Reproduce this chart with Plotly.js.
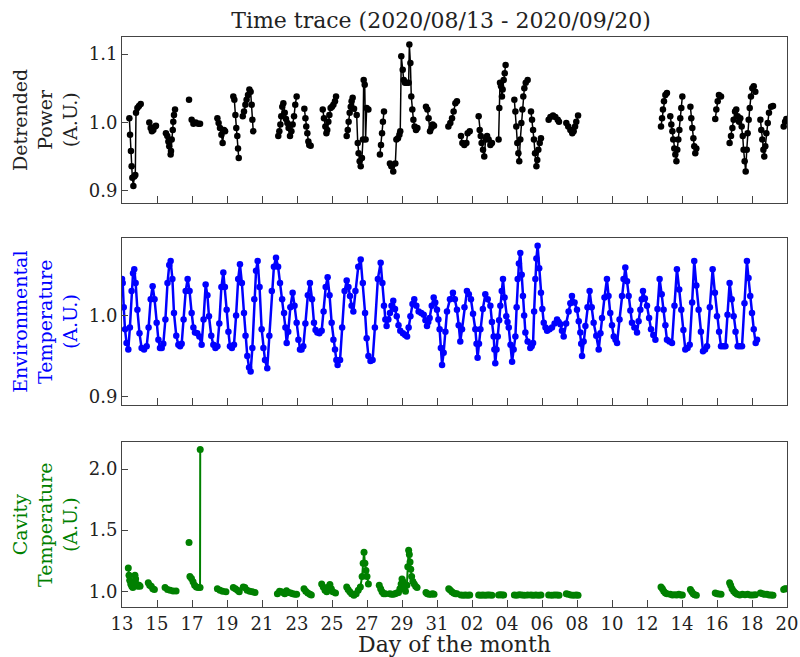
<!DOCTYPE html>
<html><head><meta charset="utf-8">
<script src="https://cdn.plot.ly/plotly-3.0.1.min.js"></script>
<style>html,body{margin:0;padding:0;background:#fff}#chart{width:800px;height:657px}</style>
</head><body><div id="chart"></div>
<script>
// x = days since 2020-08-13 00:00
const tickDays = [0,2,4,6,8,10,12,14,16,18,20,22,24,26,28,30,32,34,36,38];
const tickLabels = ['13','15','17','19','21','23','25','27','29','31','02','04','06','08','10','12','14','16','18','20'];

// Detrended power (null = gap in the record)
const powerDay = [
0.42,0.46,0.51,0.55,0.59,0.65,0.70,0.76,0.80,0.88,0.97,1.07,null,
1.56,1.64,1.71,1.79,1.89,1.94,null,
2.51,2.59,2.65,2.70,2.78,2.80,2.84,2.90,2.93,2.97,3.03,null,
3.83,null,
3.98,4.08,4.21,4.36,4.46,null,
5.45,5.52,5.60,5.68,5.75,5.83,5.89,null,
6.36,6.42,6.48,6.53,6.59,6.63,6.67,null,
6.90,6.97,7.05,7.12,7.20,7.28,7.35,7.41,7.45,7.50,null,
8.93,8.99,9.05,9.10,9.16,9.22,9.30,9.37,9.45,9.52,9.60,9.68,9.75,9.83,9.90,9.98,null,
10.42,10.48,10.53,10.59,10.65,10.70,10.78,null,
11.47,11.54,11.62,11.68,11.73,11.79,11.85,11.92,12.00,12.08,12.17,12.23,null,
12.84,12.90,12.95,13.01,13.07,13.12,13.18,13.26,13.41,13.47,13.52,13.58,13.64,13.71,13.77,13.81,13.87,13.92,13.98,14.08,null,
14.74,14.80,14.86,14.91,14.97,null,
15.31,15.39,15.50,15.62,15.68,15.77,15.85,15.90,15.96,16.04,16.10,16.17,16.27,16.38,16.42,16.48,16.53,16.59,16.65,16.72,16.80,16.88,null,
17.37,17.45,17.52,17.60,17.68,17.75,17.83,null,
18.65,18.76,18.86,18.95,19.05,19.14,null,
19.37,19.45,19.56,19.68,19.75,19.87,null,
20.38,20.44,20.50,20.55,20.63,20.70,20.78,20.86,20.95,21.05,21.14,null,
21.52,21.56,21.60,21.66,21.71,21.75,21.81,21.87,21.92,null,
22.42,22.48,22.53,22.59,22.65,22.70,22.76,22.82,22.88,22.93,22.99,23.07,23.18,null,
23.37,23.43,23.49,23.54,23.60,23.68,23.73,23.79,23.87,23.94,null,
24.38,24.48,24.63,24.76,24.90,24.97,null,
25.39,25.50,25.62,25.73,25.81,25.89,25.96,26.06,null,
30.80,30.86,30.91,30.97,31.05,31.14,null,
31.33,31.39,31.45,31.50,31.56,31.62,31.68,31.73,31.79,31.85,31.90,31.96,32.02,null,
32.48,32.53,32.59,32.65,32.70,32.76,32.82,null,
33.90,33.96,34.04,34.11,34.23,null,
34.72,34.80,34.88,34.95,35.03,35.10,35.18,35.26,35.33,35.41,35.47,35.52,35.58,35.64,35.70,35.75,35.81,35.87,35.94,36.02,36.10,36.19,null,
36.48,36.53,36.59,36.65,36.70,36.76,36.82,36.90,36.97,37.09,37.20,null,
37.81,37.89,37.96];
const powerVal = [
1.006,0.982,0.958,0.936,0.919,0.907,0.921,0.923,1.014,1.021,1.024,1.027,null,
1.000,0.992,0.987,0.989,0.994,0.995,null,
0.984,0.980,0.972,0.965,0.953,0.958,0.975,0.989,1.001,1.011,1.019,null,
1.033,null,
1.004,0.998,1.000,0.998,0.998,null,
1.006,0.999,0.992,0.982,0.970,0.989,0.987,null,
1.038,1.033,1.011,0.992,0.980,0.962,0.948,null,
1.009,1.016,1.026,1.033,1.040,1.048,1.045,1.026,1.004,0.987,null,
0.980,0.987,0.997,1.009,1.023,1.028,1.014,1.005,0.999,0.992,0.980,0.987,0.997,1.009,1.026,1.038,null,
1.020,1.006,0.994,0.984,0.972,0.967,0.966,null,
1.019,1.006,0.994,0.984,0.989,1.001,1.011,1.021,1.023,1.026,1.031,1.038,null,
0.980,0.989,1.001,1.014,1.023,1.031,1.036,1.020,1.011,0.970,0.955,0.943,0.936,0.948,0.975,1.062,1.055,0.975,1.021,1.019,null,
0.953,0.967,0.984,1.001,1.016,null,
0.940,0.936,0.928,0.940,0.975,0.977,0.982,0.987,1.097,1.077,1.062,1.058,1.058,1.058,1.114,1.087,1.038,1.019,1.004,0.994,0.989,0.992,null,
1.023,1.019,1.006,0.987,0.992,0.997,0.995,null,
0.994,0.999,1.006,1.016,1.028,1.031,null,
0.980,0.970,0.967,0.970,0.984,0.987,null,
1.009,0.989,0.980,0.970,0.960,0.950,0.975,0.980,0.975,0.967,0.970,null,
0.975,1.021,1.058,1.053,1.038,1.048,1.062,1.072,1.084,null,
1.033,1.016,0.994,0.970,0.955,0.943,0.975,0.999,1.019,1.038,1.050,1.058,1.062,null,
1.016,1.004,0.989,0.975,0.955,0.936,0.945,0.960,0.970,0.977,null,
1.004,1.008,1.010,1.008,1.004,1.001,null,
0.999,0.994,0.989,0.984,0.987,0.994,1.001,1.010,null,
0.994,1.006,1.019,1.031,1.040,1.043,null,
1.009,0.997,0.987,0.975,0.962,0.953,0.943,0.960,0.975,0.989,1.006,1.021,1.038,null,
1.023,1.006,0.992,0.977,0.965,0.955,0.962,null,
1.005,1.019,1.031,1.040,1.038,null,
0.970,0.980,0.992,1.004,1.016,1.019,1.009,1.001,1.006,0.994,0.980,0.960,0.943,0.928,0.960,0.984,1.004,1.021,1.038,1.050,1.053,1.045,null,
1.004,0.989,0.975,0.960,0.950,0.965,0.984,0.999,1.014,1.023,1.024,null,
0.994,1.001,1.005];

// Environmental temperature
const envDay = [
0.00,0.04,0.10,0.17,0.26,0.36,0.45,0.55,0.63,0.70,0.78,0.88,1.00,1.12,1.26,1.41,1.52,1.64,1.75,1.86,
1.98,2.08,2.17,2.27,2.36,2.48,2.60,2.70,2.78,2.88,2.97,3.10,3.22,3.32,3.41,3.52,3.64,3.75,3.86,3.98,
4.08,4.17,4.30,4.42,4.55,4.66,4.78,4.88,4.97,5.10,5.22,5.34,5.45,5.56,5.68,5.79,5.88,5.98,6.08,6.17,
6.28,6.40,6.52,6.64,6.74,6.85,6.97,7.06,7.16,7.26,7.35,7.45,7.56,7.66,7.75,7.86,7.98,8.08,8.17,8.30,
8.42,8.56,8.68,8.80,8.92,9.03,9.15,9.26,9.34,9.41,9.50,9.62,9.75,9.86,9.98,10.08,10.17,10.26,10.36,10.48,
10.62,10.74,10.86,10.97,11.06,11.16,11.28,11.41,11.52,11.64,11.75,11.86,11.98,12.08,12.17,12.25,12.32,12.46,12.58,12.72,
12.84,12.94,13.03,13.12,13.22,13.34,13.50,13.64,13.76,13.89,13.98,14.08,14.20,14.32,14.45,14.62,14.78,14.88,14.97,15.05,
15.12,15.22,15.31,15.40,15.50,15.60,15.70,15.80,15.90,16.05,16.18,16.29,16.38,16.48,16.60,16.70,16.82,16.95,17.10,17.24,
17.34,17.43,17.50,17.58,17.70,17.81,17.90,18.00,18.08,18.15,18.22,18.29,18.38,18.48,18.57,18.74,18.91,19.02,19.14,19.24,
19.33,19.43,19.57,19.71,19.82,19.94,20.06,20.19,20.26,20.32,20.40,20.48,20.62,20.76,20.90,21.05,21.14,21.24,21.28,21.33,
21.40,21.47,21.55,21.62,21.70,21.77,21.86,21.96,22.03,22.10,22.20,22.29,22.38,22.48,22.55,22.61,22.68,22.76,22.84,22.91,
22.98,23.05,23.18,23.33,23.41,23.49,23.55,23.62,23.68,23.75,23.84,23.94,24.02,24.10,24.20,24.29,24.43,24.57,24.72,24.86,
24.95,25.05,25.14,25.24,25.38,25.52,25.62,25.71,25.86,26.00,26.10,26.19,26.24,26.29,26.38,26.48,26.60,26.72,26.84,26.95,
27.10,27.24,27.34,27.43,27.57,27.71,27.80,27.90,28.00,28.10,28.20,28.29,28.43,28.57,28.66,28.76,28.86,28.95,29.05,29.14,
29.28,29.43,29.52,29.62,29.70,29.77,29.88,30.00,30.12,30.23,30.36,30.48,30.60,30.72,30.84,30.95,31.05,31.14,31.28,31.43,
31.57,31.71,31.84,31.96,32.08,32.19,32.32,32.44,32.58,32.70,32.82,32.95,33.08,33.20,33.32,33.43,33.59,33.75,33.88,34.00,
34.12,34.23,34.36,34.48,34.60,34.72,34.84,34.95,35.06,35.18,35.30,35.43,35.57,35.71,35.80,35.90,36.00,36.10,36.21,36.29];
const envVal = [
1.045,1.040,1.010,0.983,0.966,0.958,0.985,1.030,1.052,1.057,1.040,1.007,0.978,0.960,0.958,0.962,0.985,1.020,1.036,1.020,
0.991,0.970,0.960,0.960,0.965,0.995,1.040,1.062,1.067,1.045,1.003,0.975,0.964,0.962,0.965,0.995,1.030,1.045,1.030,1.003,
0.985,0.979,0.978,0.974,0.964,0.995,1.038,1.025,0.999,0.975,0.964,0.960,0.962,0.990,1.035,1.053,1.035,1.007,0.980,0.962,
0.960,0.964,1.000,1.045,1.063,1.040,1.003,0.975,0.950,0.936,0.931,0.960,1.020,1.055,1.067,1.035,0.983,0.960,0.945,0.935,
0.975,1.030,1.060,1.071,1.060,1.040,1.020,1.003,0.985,0.966,0.980,1.010,1.028,1.012,0.991,0.970,0.958,0.958,0.962,0.990,
1.025,1.040,1.020,0.991,0.982,0.979,0.978,0.981,1.005,1.035,1.047,1.025,0.991,0.970,0.958,0.945,0.939,0.945,0.985,1.030,
1.043,1.035,1.024,1.012,1.005,1.030,1.060,1.069,1.040,1.003,0.972,0.950,0.944,0.945,0.985,1.045,1.065,1.040,1.012,0.995,
0.987,0.995,1.003,1.012,1.018,1.008,0.999,0.988,0.981,0.978,0.976,0.974,0.985,0.999,1.014,1.020,1.012,1.005,1.003,1.001,
0.994,0.987,0.992,0.997,1.012,1.022,1.016,1.007,0.995,0.983,0.960,0.939,0.954,0.980,1.005,1.020,1.028,1.020,1.007,0.988,
0.968,0.983,1.010,1.030,1.026,1.020,1.002,0.983,0.965,0.948,0.965,0.983,1.008,1.026,1.020,1.012,0.992,0.974,0.958,0.941,
0.958,0.974,0.994,1.012,1.030,1.045,1.022,0.999,0.992,0.985,0.964,0.943,0.958,0.974,1.010,1.045,1.064,1.077,1.050,1.024,
1.000,0.979,0.968,0.960,0.962,0.966,1.005,1.045,1.070,1.086,1.058,1.028,1.008,0.991,0.985,0.981,0.983,0.985,0.990,0.995,
0.992,0.989,0.981,0.974,0.990,1.005,1.015,1.024,1.016,1.007,0.993,0.979,0.965,0.950,0.968,0.987,1.010,1.030,1.010,0.991,
0.975,0.958,0.978,0.997,1.022,1.045,1.024,1.003,0.988,0.974,0.970,0.966,0.995,1.024,1.045,1.059,1.042,1.024,1.006,0.991,
0.985,0.979,0.993,1.007,1.020,1.030,1.021,1.012,0.997,0.983,0.976,0.970,1.008,1.045,1.026,1.007,0.988,0.970,0.968,0.966,
1.012,1.057,1.032,1.007,0.982,0.958,0.960,0.964,1.016,1.067,1.037,1.007,0.980,0.956,0.958,0.962,1.010,1.057,1.028,0.999,
0.980,0.962,0.962,0.962,1.001,1.040,1.020,0.999,0.980,0.962,0.962,0.962,1.015,1.067,1.046,1.024,1.003,0.983,0.966,0.970];

// Cavity temperature (same gaps as the power record)
const cavDay = [
0.36,0.40,0.44,0.50,0.56,0.62,0.68,0.74,0.78,0.82,0.90,0.98,1.03,null,
1.50,1.58,1.67,1.76,1.85,null,
2.46,2.60,2.75,2.92,3.09,null,
3.83,null,
3.88,3.97,4.06,4.15,4.25,4.35,4.46,4.47,null,
5.45,5.60,5.75,5.94,null,
6.36,6.48,6.60,6.70,null,
6.93,7.02,7.15,7.30,7.45,7.60,null,
8.88,9.00,9.10,9.20,9.30,9.40,9.52,9.64,9.76,9.88,9.98,null,
10.40,10.50,10.62,10.74,10.82,null,
11.41,11.50,11.60,11.70,11.80,11.88,11.96,12.05,12.20,null,
12.84,12.92,13.02,13.12,13.25,13.38,13.50,13.62,13.72,13.78,13.83,13.88,13.94,14.00,14.08,null,
14.70,14.78,14.86,14.95,15.05,null,
15.30,15.40,15.50,15.60,15.70,15.80,15.88,15.95,16.00,16.05,16.12,16.20,16.28,16.33,16.38,16.42,16.46,16.50,16.55,16.62,16.70,16.78,16.86,null,
17.37,17.45,17.55,17.65,17.75,17.83,null,
18.67,18.75,18.85,18.95,19.05,19.14,null,
19.37,19.50,19.62,19.75,19.87,null,
20.38,20.50,20.62,20.75,20.88,21.00,21.14,null,
21.52,21.62,21.72,21.81,null,
22.42,22.55,22.70,22.85,23.00,23.18,null,
23.37,23.50,23.65,23.80,23.94,null,
24.38,24.55,24.70,24.85,24.97,null,
25.39,25.50,25.65,25.80,25.95,26.06,null,
30.80,30.88,30.96,31.05,31.14,null,
31.33,31.45,31.58,31.70,31.82,31.92,32.02,null,
32.48,32.56,32.64,32.72,32.82,null,
33.90,34.00,34.10,34.23,null,
34.72,34.78,34.86,34.95,35.05,35.15,35.30,35.45,35.60,35.75,35.90,36.05,36.19,null,
36.48,36.60,36.72,36.85,36.98,37.10,37.20,null,
37.81,37.88,37.96];
const cavVal = [
1.19,1.13,1.09,1.06,1.04,1.03,1.06,1.13,1.10,1.06,1.04,1.05,1.04,null,
1.07,1.05,1.04,1.02,1.015,null,
1.03,1.015,1.008,1.003,1.003,null,
1.40,null,
1.12,1.105,1.077,1.05,1.035,1.03,1.03,2.16,null,
1.02,1.008,1.0,0.995,null,
1.03,1.02,1.008,0.995,null,
1.035,1.03,1.008,1.0,0.995,0.99,null,
0.98,1.0,0.995,0.99,0.98,1.005,0.99,0.985,0.98,0.975,0.975,null,
1.02,1.0,0.985,0.975,0.97,null,
1.06,1.035,1.008,0.995,1.035,1.055,1.02,0.995,0.985,null,
1.035,1.015,0.995,0.98,0.967,0.98,1.008,1.035,1.12,1.23,1.32,1.23,1.17,1.12,1.06,null,
1.05,1.02,0.995,0.98,0.98,null,
0.98,0.975,0.975,0.98,0.985,0.99,1.02,1.06,1.10,1.08,1.02,1.0,1.05,1.20,1.335,1.30,1.24,1.18,1.12,1.08,1.06,1.04,1.03,null,
0.99,0.98,0.975,0.975,0.98,0.975,null,
1.02,1.01,0.995,0.985,0.98,0.98,null,
0.97,0.968,0.97,0.968,0.97,null,
0.97,0.968,0.97,0.968,0.97,0.97,0.968,null,
0.97,0.972,0.97,0.97,null,
0.97,0.968,0.972,0.97,0.968,0.97,null,
0.97,0.968,0.97,0.968,0.97,null,
0.97,0.968,0.97,0.97,0.968,null,
0.98,0.975,0.97,0.968,0.97,0.968,null,
1.035,1.02,1.0,0.985,0.98,null,
0.975,0.97,0.972,0.97,0.975,0.97,0.97,null,
1.015,0.995,0.98,0.972,0.968,null,
0.985,0.98,0.978,0.975,null,
1.07,1.05,1.02,1.0,0.985,0.975,0.97,0.975,0.972,0.975,0.97,0.97,0.972,null,
0.985,0.98,0.975,0.975,0.97,0.97,0.968,null,
1.015,1.02,1.02];

const FONT = 'DejaVu Serif';
const AX = '#444';

function trace(x, y, color, xa, ya, msize, lw) {
  return {x: x, y: y, type: 'scatter', mode: 'lines+markers', xaxis: xa, yaxis: ya,
    connectgaps: false, line: {color: color, width: lw},
    marker: {color: color, size: msize}, hoverinfo: 'x+y'};
}

const data = [
  trace(powerDay, powerVal, '#000000', 'x', 'y', 6.5, 1.5),
  trace(envDay, envVal, '#0000ff', 'x2', 'y2', 6.5, 2.5),
  trace(cavDay, cavVal, '#008000', 'x3', 'y3', 7, 2)
];

function xax(anchor, labels) {
  return {anchor: anchor, range: [0, 38], tickvals: tickDays, ticktext: tickLabels,
    ticks: 'inside', ticklen: 7, tickcolor: AX, tickwidth: 1,
    showticklabels: labels, showline: true, linecolor: AX, linewidth: 1, mirror: true,
    showgrid: false, zeroline: false, tickfont: {family: FONT, size: 18, color: '#222'}};
}
function yax(anchor, domain, range, vals, title, color) {
  return {anchor: anchor, domain: domain, range: range, tickvals: vals, tickformat: '.1f',
    ticks: 'inside', ticklen: 6, tickcolor: AX, showline: true, linecolor: AX, linewidth: 1, mirror: true,
    showgrid: false, zeroline: false, tickfont: {family: FONT, size: 18, color: '#222'},
    title: {text: title, font: {family: FONT, size: 19, color: color}, standoff: 6}};
}

const layout = {
  width: 800, height: 657,
  margin: {l: 122, r: 13, t: 37, b: 50},
  paper_bgcolor: '#fff', plot_bgcolor: '#fff',
  showlegend: false,
  title: {text: 'Time trace (2020/08/13 - 2020/09/20)', font: {family: FONT, size: 22, color: '#222'},
          x: 441/800, xref: 'container', xanchor: 'center', y: 1 - 20/657, yref: 'container', yanchor: 'middle'},
  xaxis: xax('y', false),
  xaxis2: xax('y2', false),
  xaxis3: Object.assign(xax('y3', true), {title: {text: 'Day of the month', font: {family: FONT, size: 22, color: '#222'}, standoff: 6}}),
  yaxis: yax('x', [0.7093, 1], [0.8825, 1.125], [0.9, 1.0, 1.1], 'Detrended<br>Power<br>(A.U.)', '#222'),
  yaxis2: yax('x2', [0.3544, 0.6468], [0.8897, 1.095], [0.9, 1.0], 'Environmental<br>Temperature<br>(A.U.)', '#0000ff'),
  yaxis3: yax('x3', [0, 0.2889], [0.871, 2.219], [1.0, 1.5, 2.0], 'Cavity<br>Temperature<br>(A.U.)', '#008000')
};

Plotly.newPlot('chart', data, layout, {displayModeBar: false, staticPlot: true});
</script>
</body></html>
